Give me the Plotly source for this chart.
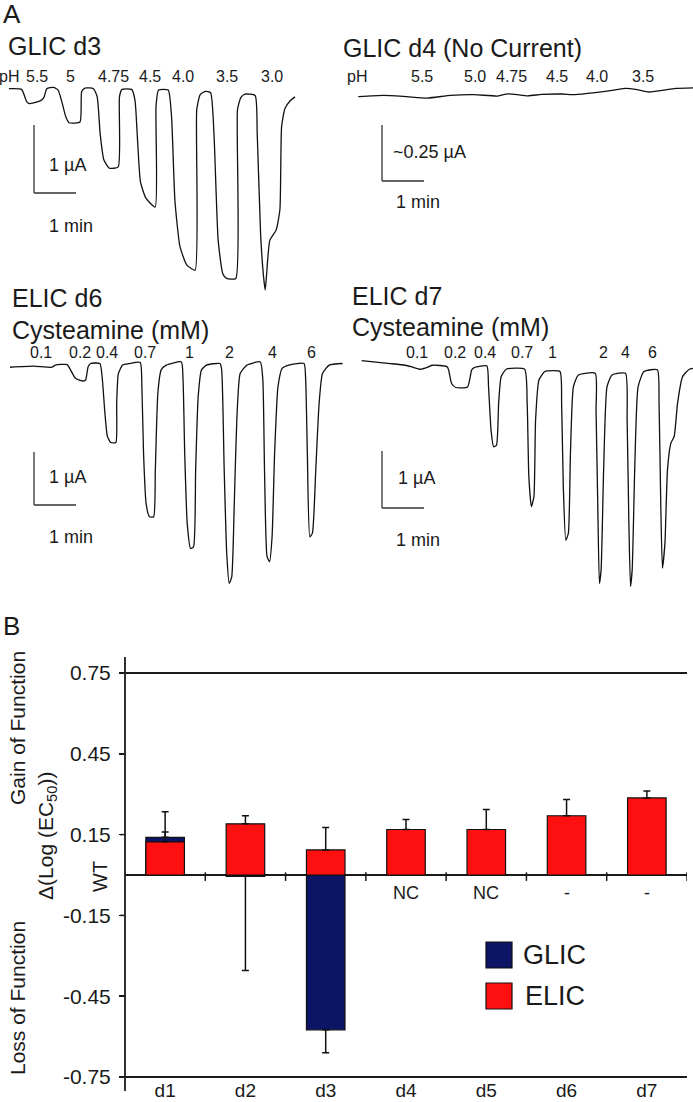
import plotly.graph_objects as go

W, H = 693, 1102

glic_d3_t = [0, 0.30, 0.42, 0.48, 0.74, 0.83, 0.90, 1.06, 1.17, 1.27, 1.35, 1.43, 1.69, 1.73, 1.81,
             2.01, 2.10, 2.17, 2.26, 2.39, 2.60, 2.63, 2.69, 2.92, 3.00, 3.06, 3.13, 3.26, 3.48, 3.50,
             3.56, 3.79, 3.87, 3.95, 4.07, 4.23, 4.43, 4.47, 4.55, 4.67, 4.80, 4.88, 4.98, 5.09, 5.18,
             5.40, 5.44, 5.52, 5.62, 5.86, 5.91, 5.99, 6.06, 6.10, 6.13, 6.21, 6.36, 6.45, 6.49, 6.57,
             6.69, 6.81]
glic_d3_i = [0, -0.01, -0.19, -0.22, -0.18, -0.13, 0.00, 0.02, -0.02, -0.22, -0.41, -0.50, -0.49, -0.04, 0.01,
             0.00, -0.12, -0.66, -1.05, -1.17, -1.15, -0.12, -0.01, -0.01, -0.17, -0.75, -1.37, -1.61, -1.74, -0.26,
             -0.02, -0.02, -0.41, -1.64, -2.32, -2.59, -2.67, -0.31, -0.09, -0.04, -0.06, -0.66, -2.23, -2.72, -2.79,
             -2.79, -0.31, -0.13, -0.08, -0.10, -0.66, -2.13, -2.76, -2.96, -2.76, -2.23, -2.08, -1.78, -0.56, -0.29,
             -0.18, -0.12]
glic_d3_ph = ["pH", "5.5", "5", "4.75", "4.5", "4.0", "3.5", "3.0"]

glic_d4_t = [0, 0.60, 1.16, 1.64, 2.20, 2.76, 3.32, 3.56, 4.04, 4.36, 4.84, 5.16, 5.64, 6.12, 6.36,
             6.60, 6.92, 7.24, 7.56, 8.03]
glic_d4_i = [0, 0.006, 0.0, -0.006, 0.006, 0.009, 0.003, 0.013, 0.004, 0.010, 0.012, 0.009, 0.018, 0.030, 0.037,
             0.033, 0.021, 0.028, 0.037, 0.040]
glic_d4_ph = ["pH", "5.5", "5.0", "4.75", "4.5", "4.0", "3.5"]

elic_d6_t = [0, 0.56, 1.00, 1.08, 1.36, 1.44, 1.56, 1.72, 1.80, 1.86, 1.92, 2.14, 2.20, 2.26, 2.32, 2.40,
             2.52, 2.54, 2.58, 2.68, 2.84, 3.10, 3.14, 3.18, 3.24, 3.32, 3.42, 3.46, 3.52, 3.60, 3.72,
             4.08, 4.12, 4.16, 4.22, 4.30, 4.37, 4.42, 4.48, 4.56, 4.68, 5.00, 5.04, 5.10, 5.16, 5.22,
             5.28, 5.34, 5.40, 5.48, 5.64, 5.96, 6.02, 6.06, 6.12, 6.18, 6.24, 6.30, 6.38, 6.48, 6.64,
             7.00, 7.04, 7.08, 7.14, 7.20, 7.28, 7.36, 7.44, 7.60, 7.92]
elic_d6_i = [-0.01, 0.01, -0.01, 0.03, 0.04, -0.06, -0.22, -0.27, -0.25, 0.0, 0.06, 0.06, -0.25, -0.88, -1.32, -1.43,
             -1.43, -0.69, -0.13, 0.03, 0.06, 0.08, -0.38, -1.64, -2.58, -2.83, -2.83, -1.95, -0.50, -0.06, 0.03,
             0.09, -0.25, -1.64, -2.96, -3.43, -3.40, -1.95, -0.57, -0.06, 0.03, 0.06, -0.06, -1.95, -3.52, -4.09,
             -3.96, -2.58, -1.01, -0.13, 0.03, 0.09, -0.25, -1.95, -3.58, -3.68, -3.21, -1.64, -0.38, -0.03, 0.03,
             0.06, -0.25, -1.64, -3.21, -3.14, -1.95, -0.69, -0.13, 0.03, 0.06]
elic_d6_conc = ["0.1", "0.2", "0.4", "0.7", "1", "2", "4", "6"]

elic_d7_t = [0, 0.68, 1.04, 1.20, 1.40, 1.58, 1.68, 2.04, 2.14, 2.24, 2.52, 2.62, 2.68, 2.98, 3.02, 3.08,
             3.14, 3.21, 3.26, 3.32, 3.44, 3.88, 3.94, 3.98, 4.04, 4.10, 4.14, 4.22, 4.36, 4.72, 4.76,
             4.80, 4.86, 4.92, 4.97, 5.04, 5.16, 5.56, 5.58, 5.62, 5.66, 5.70, 5.76, 5.84, 5.96, 6.28,
             6.32, 6.36, 6.40, 6.44, 6.50, 6.58, 6.72, 7.04, 7.08, 7.12, 7.16, 7.22, 7.28, 7.36, 7.44,
             7.52, 7.64, 7.80, 7.95]
elic_d7_i = [0, -0.05, -0.08, -0.11, -0.15, -0.11, -0.08, -0.11, -0.40, -0.47, -0.46, -0.16, -0.12, -0.09, -0.46, -1.22,
             -1.51, -1.48, -0.75, -0.28, -0.15, -0.15, -0.75, -2.04, -2.56, -2.39, -1.04, -0.34, -0.19, -0.19, -0.75,
             -2.21, -3.15, -3.03, -1.63, -0.46, -0.25, -0.22, -0.87, -2.50, -3.91, -3.67, -1.92, -0.46, -0.25, -0.22,
             -1.04, -2.80, -3.96, -3.67, -1.92, -0.46, -0.19, -0.16, -0.75, -2.50, -3.64, -3.20, -1.92, -1.45, -1.33,
             -0.75, -0.28, -0.15, -0.13]
elic_d7_conc = ["0.1", "0.2", "0.4", "0.7", "1", "2", "4", "6"]

# ---------------- Panel B: Δ(Log(EC50)) ----------------
constructs = ["d1", "d2", "d3", "d4", "d5", "d6", "d7"]
glic_val = [0.14, -0.005, -0.575, None, None, None, None]
glic_err_up = [0.02, 0, 0, 0, 0, 0, 0]
glic_err_down = [0, 0.35, 0.085, 0, 0, 0, 0]
elic_val = [0.123, 0.19, 0.093, 0.169, 0.169, 0.22, 0.286]
elic_err_up = [0.112, 0.03, 0.083, 0.037, 0.074, 0.06, 0.026]
glic_notes = ["", "", "", "NC", "NC", "-", "-"]
ytick_vals = [-0.75, -0.45, -0.15, 0.15, 0.45, 0.75]
ytick_text = ["-0.75", "-0.45", "-0.15", "0.15", "0.45", "0.75"]

FONT = "Liberation Sans, Arial, sans-serif"
NARROW = "Liberation Sans Narrow, Arial Narrow, Liberation Sans, sans-serif"
TXT = "#1a1a1a"
AX = "#1a1a1a"

fig = go.Figure()
annotations = []
shapes = []


def ann(text, xpx, ypx, size, xanchor="left", angle=0, family=FONT, **kw):
    annotations.append(dict(text=text, x=xpx / W, y=1 - ypx / H, xref="paper", yref="paper",
                            xanchor=xanchor, yanchor="middle", showarrow=False, textangle=angle,
                            font=dict(family=family, size=size, color=TXT), **kw))


def pline(x0, y0, x1, y1, width=1.8, color=AX):
    shapes.append(dict(type="line", xref="paper", yref="paper", x0=x0 / W, x1=x1 / W,
                       y0=1 - y0 / H, y1=1 - y1 / H, line=dict(color=color, width=width)))


layout_axes = {}


def trace_panel(n, t, cur, dom_x, dom_y, x0, y0, ppm, ppu, corner, bar_ua):
    # axes geometry: x0,y0 = pixel of (t=0, I=0); ppm px per min; ppu px per µA
    layout_axes[f"xaxis{n}"] = dict(domain=[dom_x[0] / W, dom_x[1] / W],
                                    range=[(dom_x[0] - x0) / ppm, (dom_x[1] - x0) / ppm],
                                    visible=False, anchor=f"y{n}", fixedrange=True, automargin=False)
    layout_axes[f"yaxis{n}"] = dict(domain=[1 - dom_y[1] / H, 1 - dom_y[0] / H],
                                    range=[(y0 - dom_y[1]) / ppu, (y0 - dom_y[0]) / ppu],
                                    visible=False, anchor=f"x{n}", fixedrange=True, automargin=False)
    fig.add_trace(go.Scatter(x=t, y=cur, mode="lines", xaxis=f"x{n}", yaxis=f"y{n}",
                             line=dict(color="#111111", width=1.3, shape="spline", smoothing=0.5),
                             showlegend=False, hoverinfo="skip"))
    ct = (corner[0] - x0) / ppm
    ci = (y0 - corner[1]) / ppu
    shapes.append(dict(type="line", xref=f"x{n}", yref=f"y{n}", x0=ct, x1=ct, y0=ci, y1=ci + bar_ua,
                       line=dict(color="#333333", width=1.3)))
    shapes.append(dict(type="line", xref=f"x{n}", yref=f"y{n}", x0=ct, x1=ct + 1.0, y0=ci, y1=ci,
                       line=dict(color="#333333", width=1.3)))


trace_panel(1, glic_d3_t, glic_d3_i, (0, 340), (82, 300), 9, 88.7, 42, 68, (34, 193), 1.0)
trace_panel(2, glic_d4_t, glic_d4_i, (345, 693), (82, 200), 358.3, 96.7, 42, 224, (382, 181), 0.25)
trace_panel(3, elic_d6_t, elic_d6_i, (0, 345), (358, 590), 10, 366.7, 42, 53, (34, 505), 1.0)
trace_panel(4, elic_d7_t, elic_d7_i, (345, 693), (358, 590), 361.7, 360.7, 42, 57, (382, 508), 1.0)

# Panel A text
ann("A", 1, 14, 26)
ann("GLIC d3", 6, 46, 25)
ann("GLIC d4 (No Current)", 341, 48, 25)
for lab, xc in zip(glic_d3_ph, [9, 37, 70, 113, 150, 183, 227, 272]):
    ann(lab, xc, 76, 16, xanchor="center", family=NARROW)
for lab, xc in zip(glic_d4_ph, [357, 422, 475, 511, 557, 597, 643]):
    ann(lab, xc, 76, 16, xanchor="center", family=NARROW)
ann("1 µA", 47, 165, 18)
ann("1 min", 47, 226, 18)
ann("~0.25 µA", 391, 152, 18)
ann("1 min", 394, 202, 18)
ann("ELIC d6", 10, 298, 25)
ann("Cysteamine (mM)", 10, 330, 25)
for lab, xc in zip(elic_d6_conc, [41, 80, 107, 145, 189, 229, 272, 311]):
    ann(lab, xc, 352, 16, xanchor="center", family=NARROW)
ann("1 µA", 47, 477, 18)
ann("1 min", 47, 537, 18)
ann("ELIC d7", 350, 296, 25)
ann("Cysteamine (mM)", 350, 327, 25)
for lab, xc in zip(elic_d7_conc, [417, 455, 485, 522, 552, 603, 625, 652]):
    ann(lab, xc, 352, 16, xanchor="center", family=NARROW)
ann("1 µA", 396, 478, 18)
ann("1 min", 394, 540, 18)

# ---------------- Panel B axes ----------------
bx0, bx1 = 125, 687
y_top_px, y_bot_px = 673, 1077
layout_axes["yaxis5"] = dict(domain=[1 - y_bot_px / H, 1 - y_top_px / H], range=[-0.75, 0.75],
                             anchor="x5", showline=False, ticks="outside", ticklen=5, tickwidth=1.5,
                             tickcolor=AX, tickvals=ytick_vals, ticktext=ytick_text, showgrid=False,
                             zeroline=True, zerolinecolor=AX, zerolinewidth=2, automargin=False,
                             tickfont=dict(family=FONT, size=21, color=TXT), ticklabelstandoff=4,
                             fixedrange=True)
common_x = dict(domain=[bx0 / W, bx1 / W], range=[-0.5, 6.5], showgrid=False, zeroline=False,
                fixedrange=True, showline=False, automargin=False,
                tickvals=list(range(7)), ticktext=constructs, ticks="",
                tickfont=dict(family=FONT, size=20, color=TXT))
layout_axes["xaxis5"] = dict(common_x, anchor="y5", side="bottom", ticklabelstandoff=0,
                             tickfont=dict(family=FONT, size=19, color=TXT))
layout_axes["xaxis6"] = dict(common_x, anchor="y5", side="top", overlaying="x5")

# frame lines: y axis (extends a little beyond), top line at 0.75, bottom line at -0.75
pline(bx0, 657, bx0, 1091, width=1.8)
pline(bx0, y_top_px, bx1, y_top_px, width=2)
pline(bx0, y_bot_px, bx1, y_bot_px, width=2.2)
# y tick marks
for v in ytick_vals:
    shapes.append(dict(type="line", xref="paper", yref="y5", x0=(bx0 - 5) / W, x1=bx0 / W, y0=v, y1=v,
                       line=dict(color=AX, width=1.5)))

# tick marks on the WT (zero) line at category boundaries
for i in range(7):
    shapes.append(dict(type="line", xref="x5", yref="y5", x0=i + 0.5, x1=i + 0.5, y0=0.01, y1=-0.022,
                       line=dict(color=AX, width=1.5)))

fig.add_trace(go.Bar(x=list(range(7)), y=glic_val, width=0.48, xaxis="x5", yaxis="y5", name="GLIC",
                     marker=dict(color="#0c1466", line=dict(color="#111", width=1.2)),
                     error_y=dict(type="data", symmetric=False, array=glic_err_up,
                                  arrayminus=glic_err_down, color="#111", thickness=1.5, width=3.5),
                     showlegend=False))
fig.add_trace(go.Bar(x=list(range(7)), y=elic_val, width=0.48, xaxis="x5", yaxis="y5", name="ELIC",
                     marker=dict(color="#ff1010", line=dict(color="#111", width=1.2)),
                     error_y=dict(type="data", symmetric=False, array=elic_err_up,
                                  arrayminus=[0] * 7, color="#111", thickness=1.5, width=3.5),
                     showlegend=False))

for i, note in enumerate(glic_notes):
    if note:
        annotations.append(dict(text=note, x=i, y=1 - 893 / H, xref="x5", yref="paper",
                                showarrow=False, xanchor="center", yanchor="middle",
                                font=dict(family=FONT, size=18, color=TXT)))

ann("B", 1, 626, 26)
ann("Gain of Function", 17, 728, 21, xanchor="center", angle=-90)
ann("Loss of Function", 17, 998, 21, xanchor="center", angle=-90)
ann("Δ(Log (EC<sub>50</sub>))", 47, 836, 21, xanchor="center", angle=-90)
ann("WT", 100, 876, 20, xanchor="center", angle=-90)

# legend (drawn manually)
for (yc, col, lab, lx) in [(955, "#0c1466", "GLIC", 521), (996, "#ff1010", "ELIC", 523)]:
    shapes.append(dict(type="rect", xref="paper", yref="paper", x0=486 / W, x1=512 / W,
                       y0=1 - (yc + 13) / H, y1=1 - (yc - 13) / H, fillcolor=col,
                       line=dict(color="#111", width=1.2)))
    ann(lab, lx, yc, 27)

fig.update_layout(width=W, height=H, margin=dict(l=0, r=0, t=0, b=0, autoexpand=False),
                  barmode="overlay", paper_bgcolor="white", plot_bgcolor="rgba(0,0,0,0)",
                  showlegend=False, annotations=annotations, shapes=shapes, **layout_axes)

fig.write_html("out.html", config={"displayModeBar": False, "staticPlot": True},
               post_script="document.body.style.margin='0px';document.body.style.overflow='hidden';")
